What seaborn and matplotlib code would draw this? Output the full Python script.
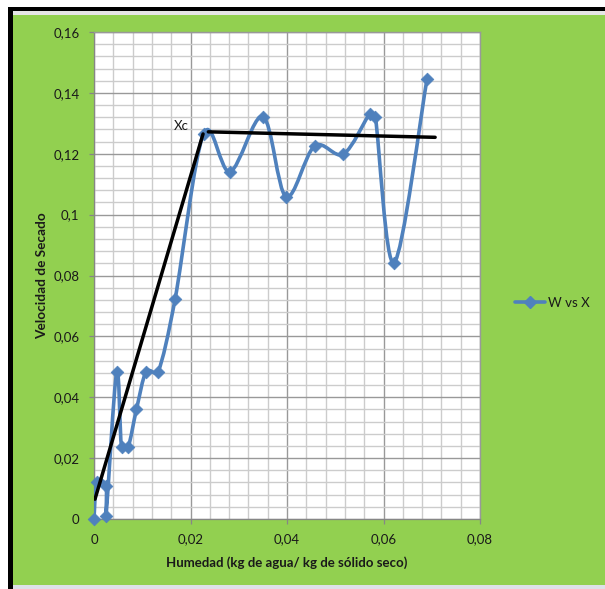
import numpy as np
import matplotlib
matplotlib.use("Agg")
import matplotlib.pyplot as plt
import seaborn as sns
import pandas as pd
from matplotlib.path import Path
from matplotlib.patches import PathPatch, Rectangle
from matplotlib.lines import Line2D
from matplotlib.ticker import MultipleLocator, FuncFormatter

# ---- data ----
humedad = [0.0, 0.0006, 0.0025, 0.0025, 0.0047, 0.0057, 0.0071, 0.0088, 0.0108,
           0.0133, 0.0168, 0.0227, 0.0282, 0.0350, 0.0398, 0.0457, 0.0517,
           0.0571, 0.0583, 0.0622, 0.0690]
velocidad = [0.0, 0.0123, 0.0108, 0.0010, 0.0484, 0.0238, 0.0238, 0.0360, 0.0484,
             0.0484, 0.0722, 0.1265, 0.1141, 0.1322, 0.1059, 0.1225, 0.1199,
             0.1330, 0.1322, 0.0842, 0.1444]

tangente_x = [0.0002, 0.0226]
tangente_y = [0.0065, 0.1265]
constante_x = [0.0237, 0.0707]
constante_y = [0.1272, 0.1254]

xc_text = "Xc"
xc_pos = (0.0180, 0.1290)

x_ticks = [0, 0.02, 0.04, 0.06, 0.08]
y_ticks = [0, 0.02, 0.04, 0.06, 0.08, 0.10, 0.12, 0.14, 0.16]
series_name = "W vs X"
x_title = "Humedad (kg de agua/ kg de sólido seco)"
y_title = "Velocidad de Secado"

# ---- style ----
BLUE = "#4F81BD"
GREEN = "#92D050"
W, H = 605, 589

sns.set_style("white")
plt.rcParams["font.family"] = ["Lato", "DejaVu Sans"]

fig = plt.figure(figsize=(W / 100, H / 100), dpi=100)
fig.patch.set_facecolor("white")

def fx(px):
    return px / W

def fy(py):
    return 1 - py / H

# frame / background
fig.add_artist(Rectangle((fx(13), fy(585)), 1 - fx(13), fy(15) - fy(585),
                         transform=fig.transFigure, facecolor=GREEN, edgecolor="none", zorder=0))
fig.add_artist(Rectangle((fx(13), fy(15)), 1 - fx(13), fy(11) - fy(15),
                         transform=fig.transFigure, facecolor="#e6e6e6", edgecolor="none", zorder=0))
fig.add_artist(Rectangle((fx(8), fy(11)), 1 - fx(8), fy(7) - fy(11),
                         transform=fig.transFigure, facecolor="black", edgecolor="none", zorder=0))
fig.add_artist(Rectangle((fx(8), 0), fx(13) - fx(8), fy(7),
                         transform=fig.transFigure, facecolor="black", edgecolor="none", zorder=0))
fig.add_artist(Rectangle((fx(13), 0), 1 - fx(13), fy(585),
                         transform=fig.transFigure, facecolor="#dde1e8", edgecolor="none", zorder=0))

ax = fig.add_axes([fx(94), fy(519), fx(480) - fx(94), fy(32) - fy(519)])
ax.set_facecolor("white")
ax.set_xlim(0, 0.08)
ax.set_ylim(0, 0.16)

# grid
ax.xaxis.set_major_locator(MultipleLocator(0.02))
ax.yaxis.set_major_locator(MultipleLocator(0.02))
ax.xaxis.set_minor_locator(MultipleLocator(0.004))
ax.yaxis.set_minor_locator(MultipleLocator(0.004))
ax.grid(which="minor", color="#cccccc", lw=1.0, zorder=0)
ax.grid(which="major", color="#999999", lw=1.0, zorder=0)
ax.set_axisbelow(True)

# smoothed series (Excel-like Bezier through the data points, built in display space)
def smooth_path(xs, ys):
    data = np.column_stack([xs, ys]).astype(float)
    pts = ax.transData.transform(data)
    n = len(pts)
    verts = [pts[0]]
    codes = [Path.MOVETO]
    for i in range(n - 1):
        p0 = pts[i - 1] if i > 0 else pts[i]
        p1 = pts[i]
        p2 = pts[i + 1]
        p3 = pts[i + 2] if i + 2 < n else pts[i + 1]
        d12 = np.hypot(*(p2 - p1))
        t1 = (p2 - p0) / 6.0
        t2 = (p3 - p1) / 6.0
        l1 = np.hypot(*t1)
        l2 = np.hypot(*t2)
        if l1 > d12 / 2 and l1 > 0:
            t1 = t1 * (d12 / 2) / l1
        if l2 > d12 / 2 and l2 > 0:
            t2 = t2 * (d12 / 2) / l2
        verts += [p1 + t1, p2 - t2, p2]
        codes += [Path.CURVE4] * 3
    verts = ax.transData.inverted().transform(np.array(verts))
    return Path(verts, codes)

ax.add_patch(PathPatch(smooth_path(humedad, velocidad), facecolor="none",
                       edgecolor=BLUE, lw=2.6, zorder=3, capstyle="round", joinstyle="round"))
df = pd.DataFrame({"x": humedad, "y": velocidad})
sns.scatterplot(data=df, x="x", y="y", ax=ax, marker="D", s=42, color=BLUE,
                edgecolor=BLUE, linewidth=0.5, zorder=4, legend=False, clip_on=False)

# straight black lines
sns.lineplot(x=tangente_x, y=tangente_y, ax=ax, color="black", lw=2.5, sort=False,
             zorder=5, legend=False)
sns.lineplot(x=constante_x, y=constante_y, ax=ax, color="black", lw=2.5, sort=False,
             zorder=5, legend=False)
ax.text(xc_pos[0], xc_pos[1], xc_text, ha="center", va="center", fontsize=9.5,
        color="#1a1a1a", zorder=6)

# axes
def excel_fmt(v, p):
    if abs(v) < 1e-12:
        return "0"
    s = f"{v:.2f}".rstrip("0").rstrip(".")
    return s.replace(".", ",")

fmt = FuncFormatter(excel_fmt)
ax.set_xticks(x_ticks)
ax.set_yticks(y_ticks)
ax.xaxis.set_major_formatter(fmt)
ax.yaxis.set_major_formatter(fmt)
ax.tick_params(axis="both", which="major", direction="out", length=3.5, width=0.9,
               color="#868686", labelsize=9.5, labelcolor="#1a1a1a", pad=7,
               bottom=True, left=True)
ax.tick_params(axis="both", which="minor", length=0)
for s in ["left", "bottom"]:
    ax.spines[s].set_color("#868686")
    ax.spines[s].set_linewidth(0.9)
for s in ["top", "right"]:
    ax.spines[s].set_color("#999999")
    ax.spines[s].set_linewidth(1.0)

ax.set_xlabel(x_title, fontsize=9.5, fontweight="bold", color="#1a1a1a", labelpad=8)
ax.set_ylabel(y_title, fontsize=9.8, fontweight="bold", color="#1a1a1a", labelpad=4)

handle = Line2D([], [], color=BLUE, lw=2.6, marker="D", ms=6)
ax.legend(handles=[handle], labels=[series_name], loc="center left",
          bbox_to_anchor=(fx(515), fy(303)), bbox_transform=fig.transFigure,
          frameon=False, fontsize=9.5, handlelength=2.3, handletextpad=0.2,
          borderpad=0, borderaxespad=0, labelcolor="#1a1a1a")

fig.savefig("out.png", dpi=100, facecolor=fig.get_facecolor())
